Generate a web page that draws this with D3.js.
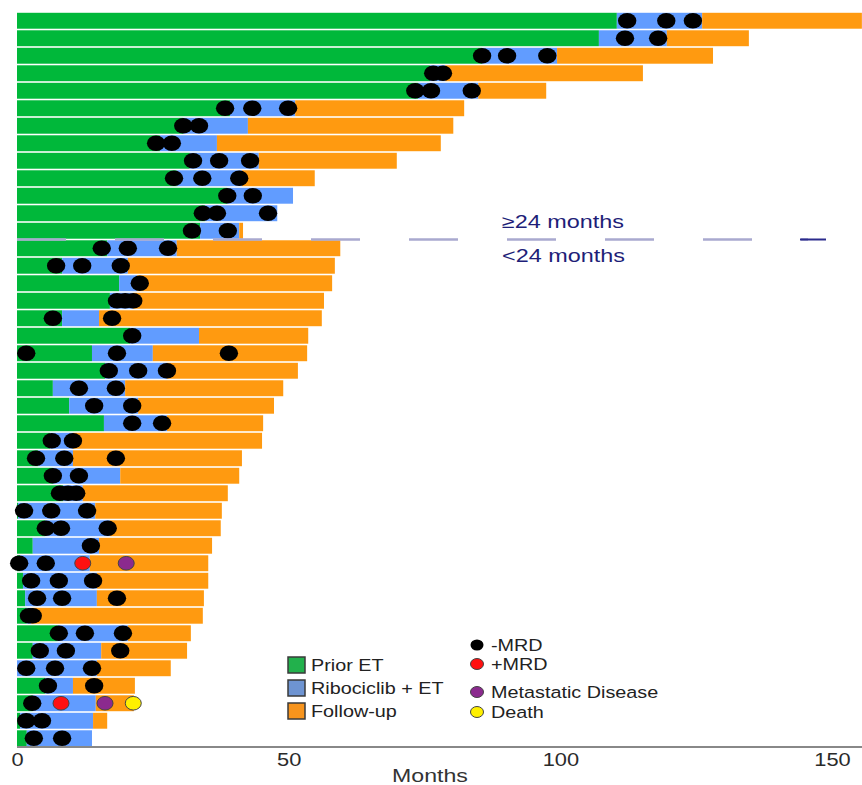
<!DOCTYPE html>
<html><head><meta charset="utf-8">
<script src="https://cdn.jsdelivr.net/npm/d3@7"></script>
<style>body{margin:0;background:#fff}svg{display:block;font-family:"Liberation Sans",Arial,sans-serif}</style>
</head><body><svg id="c" width="862" height="785"></svg>
<script>
// Per-patient end times (months), top row first
const priorEnd = [110.4,107.1,85.6,76,73.8,39.2,30.6,26.3,31.8,29.4,38.7,34.6,33.7,
  16.6,8.3,18.8,17.1,8.3,20.8,13.8,16.2,6.6,9.6,16,6.1,3.9,6.6,8.5,0.2,5.2,2.9,0.6,1.1,1.5,1.8,7.5,2.9,0,5.2,2.9,0.6,1.8];
const riboEnd = [126.1,119.6,99.4,78.8,84.9,51.2,42.5,36.8,44.5,41.4,50.8,47.9,40.9,
  29.4,20.4,22.1,21.4,15.1,33.5,25,27.6,19.9,22.3,27.6,10.3,10.3,19,12.1,14.4,17.1,15.1,13.4,14.7,14.7,2.6,20.4,15.5,14.7,10.3,14.5,14,13.8];
const followEnd = [155.5,134.7,128.1,115.2,97.4,82.3,80.3,78,69.9,54.8,50.8,47.9,41.6,
  59.5,58.5,58,56.5,56.1,53.6,53.4,51.7,49,47.3,45.3,45.1,41.4,40.9,38.8,37.7,37.5,35.9,35.2,35.2,34.4,34.2,32,31.3,28.3,21.7,21.5,16.6,13.8];
// Event markers (months), one list per patient
const negMRD = [[112.3,119.5,124.4],[111.9,118],[85.6,90.2,97.6],[76.6,78.4],[73.3,76.2,83.7],
  [38.3,43.3,49.9],[30.6,33.5],[25.6,28.5],[32.4,37.2,42.9],[28.9,34.1,40.9],[38.7,43.4],[34.2,36.8,46.2],[32.2,38.8],
  [15.6,20.4,27.8],[7.2,12,19.1],[22.6],[18.4,19.9,21.4],[6.6,17.5],[21.2],[1.7,18.4,39],[16.9,22.3,27.6],
  [11.4,18.2],[14.2,21.2],[21.2,26.7],[6.4,10.3],[3.5,8.7,18.2],[6.6,11.4],[7.9,9.4,10.9],[1.3,6.3,12.9],
  [5.3,8.1,16.7],[13.6],[0.4,5.3],[2.6,7.7,14],[3.7,8.3,18.4],[2.2,2.9],[7.7,12.5,19.5],[4.2,9,19],
  [1.7,7,13.8],[5.7,14.2],[2.8],[1.7,4.6],[3.1,8.3]];
const posMRD = [[31,12.1],[39,8.1]];       // [row, month]
const metastatic = [[31,20.1],[39,16.2]];
const death = [[39,21.4]];
const xTicks = [0,50,100,150];
const groupLabels = ["\u226524 months","<24 months"];
const splitAfter = 13; // rows in the >=24 months group
const phaseNames = ["Prior ET","Ribociclib + ET","Follow-up"];
const eventNames = ["-MRD","+MRD","Metastatic Disease","Death"];

const svg = d3.select("#c");
const x = d3.scaleLinear().domain([0,150]).range([17,832]);
const rows = d3.range(priorEnd.length);
const y = d3.scaleBand().domain(rows).range([12,747]).paddingInner(0.09).paddingOuter(0.045);
const barColor = ["#00B83A","#619CFF","#FF9A10"];
const evColor = ["#000000","#FF1010","#8B2A8E","#FFF000"];

function wideText(parent, tx, ty, txt, size, sx, fill, anchor){
  return parent.append("text").attr("transform",`translate(${tx},${ty}) scale(${sx},1)`)
    .attr("font-size",size).attr("fill",fill).attr("text-anchor",anchor||"start").text(txt);
}

const g = svg.append("g");
rows.forEach(i => {
  const segs = [[0,priorEnd[i]],[priorEnd[i],riboEnd[i]],[riboEnd[i],followEnd[i]]];
  segs.forEach((s,k) => {
    if (s[1] > s[0]) g.append("rect").attr("x",x(s[0])).attr("y",y(i))
      .attr("width",x(s[1])-x(s[0])).attr("height",y.bandwidth()).attr("fill",barColor[k]);
  });
});

// -MRD dots
const negPts = negMRD.flatMap((arr,i)=>arr.map(m=>[i,m]));
g.selectAll(".neg").data(negPts).join("ellipse")
  .attr("cx",d=>x(d[1])).attr("cy",d=>y(d[0])+y.bandwidth()/2)
  .attr("rx",9.2).attr("ry",7.8).attr("fill","#000");
function evDots(data,col){
  g.selectAll(null).data(data).join("ellipse")
   .attr("cx",d=>x(d[1])).attr("cy",d=>y(d[0])+y.bandwidth()/2)
   .attr("rx",8).attr("ry",6.8).attr("fill",col).attr("stroke","#444").attr("stroke-width",1);
}
evDots(posMRD,evColor[1]); evDots(metastatic,evColor[2]); evDots(death,evColor[3]);

// group divider
const yDiv = (y(splitAfter-1)+y.bandwidth()+y(splitAfter))/2;
svg.append("line").attr("x1",x(0)).attr("x2",808).attr("y1",yDiv).attr("y2",yDiv)
  .attr("stroke","#A9A9CF").attr("stroke-width",2.5).attr("stroke-dasharray","49,49");
svg.append("line").attr("x1",800).attr("x2",826).attr("y1",yDiv).attr("y2",yDiv)
  .attr("stroke","#2B2B8C").attr("stroke-width",2);
wideText(svg,502,yDiv-12,groupLabels[0],18,1.3,"#1E1E78");
wideText(svg,502,yDiv+22,groupLabels[1],18,1.3,"#1E1E78");

// x axis
const ax = svg.append("g").attr("transform","translate(0,747)")
  .call(d3.axisBottom(x).tickValues(xTicks).tickSize(0).tickPadding(6));
ax.select(".domain").attr("d",`M${x(0)},0H862`).attr("stroke","#888").attr("stroke-width",2);
ax.selectAll("text").attr("font-size",18.5).attr("fill","#2a2a2a")
  .attr("font-family","'Liberation Sans',Arial,sans-serif").attr("transform","scale(1.18,1)");
wideText(svg,430,782,"Months",18.5,1.25,"#333","middle");

// legend: phases
const legCols = ["#22B14C","#6E94D2","#F7941D"];
const lg = svg.append("g");
phaseNames.forEach((n,k)=>{
  const yy = 657 + k*23;
  lg.append("rect").attr("x",288).attr("y",yy).attr("width",17).attr("height",16)
    .attr("fill",legCols[k]).attr("stroke","#3a3a3a").attr("stroke-width",1.5);
  wideText(lg,311,yy+14,n,16.5,1.2,"#222");
});
// legend: events
const evY = [645,664,692,712];
eventNames.forEach((n,k)=>{
  lg.append("ellipse").attr("cx",477).attr("cy",evY[k]).attr("rx",6.5).attr("ry",5.5)
    .attr("fill",evColor[k]).attr("stroke",k?"#444":"none");
  wideText(lg,491,evY[k]+6,n,16.5,1.2,"#222");
});
</script></body></html>
